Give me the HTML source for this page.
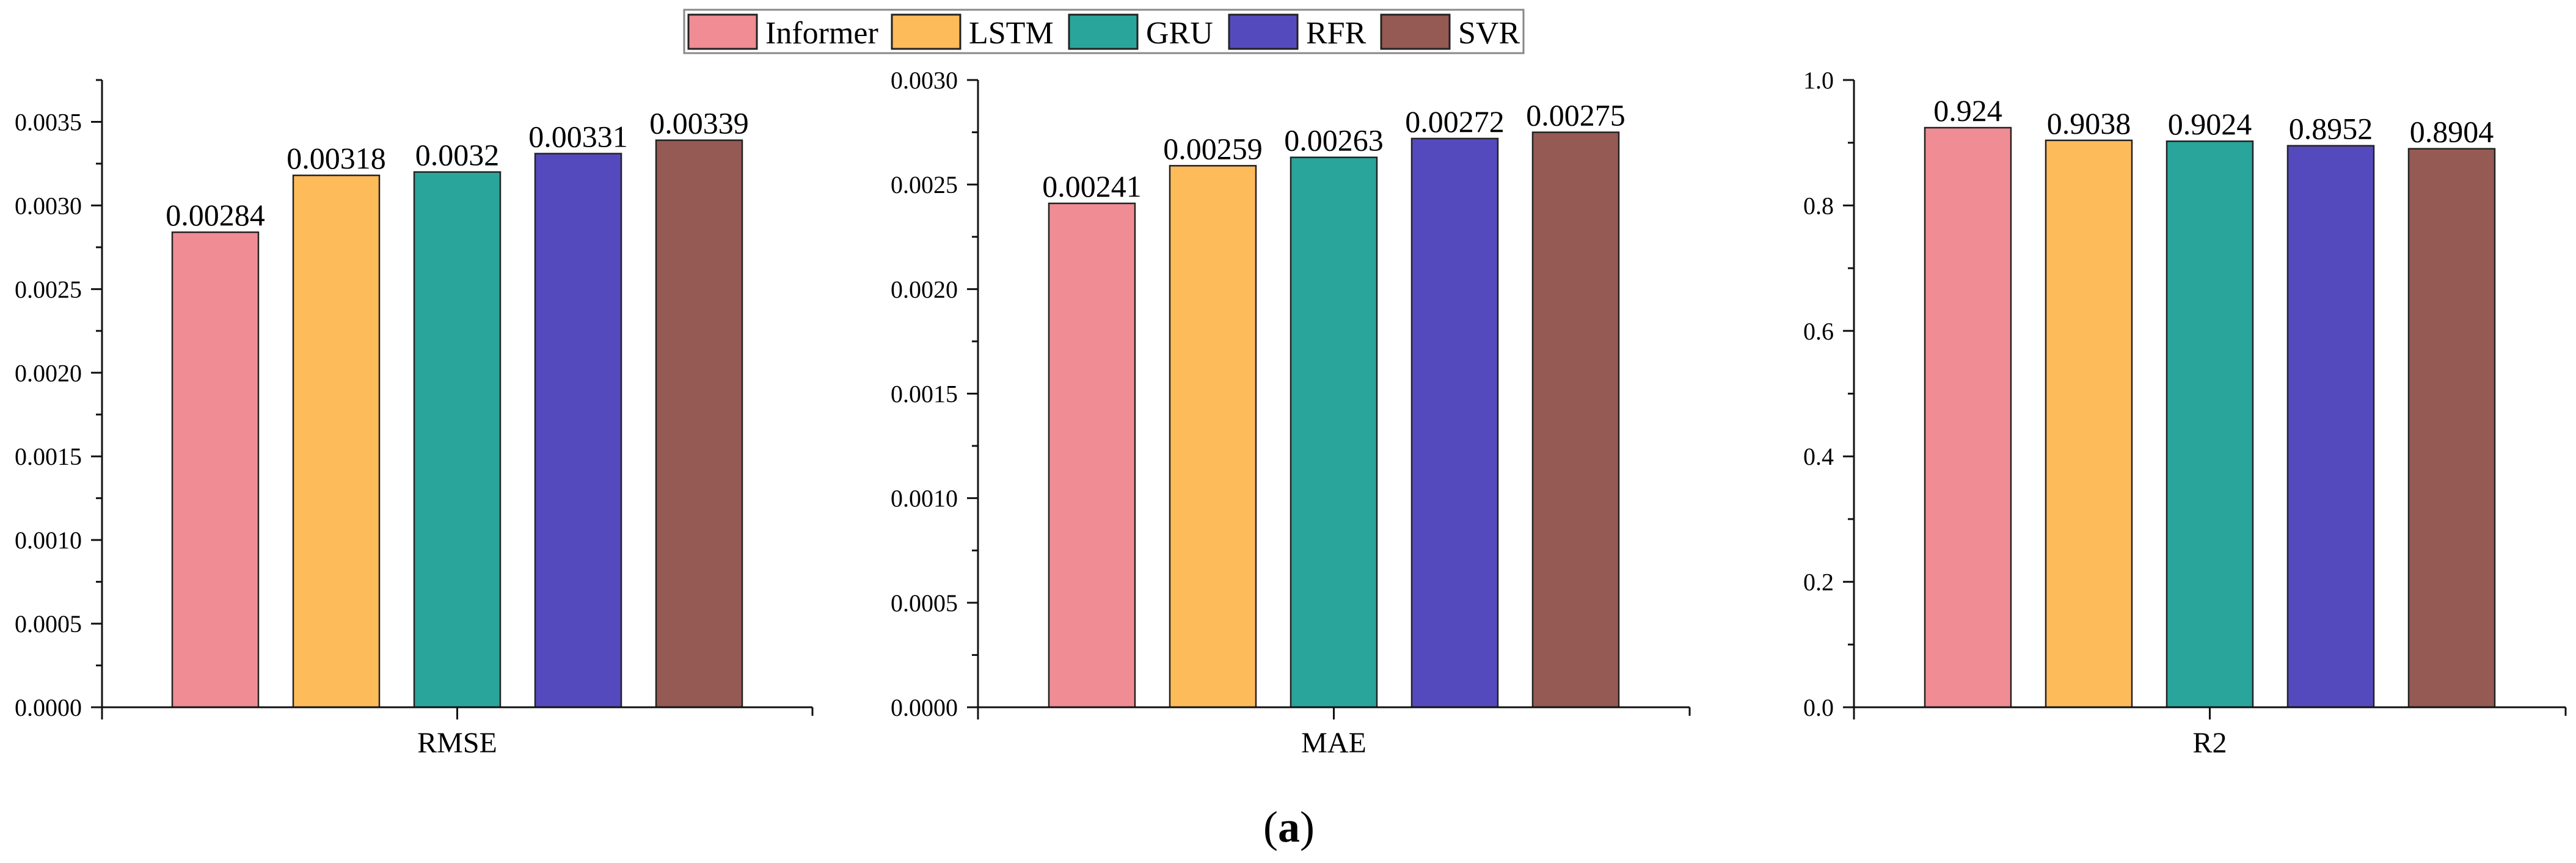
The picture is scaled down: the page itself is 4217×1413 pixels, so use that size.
<!DOCTYPE html>
<html><head><meta charset="utf-8"><style>
html,body{margin:0;padding:0;background:#fff;}
svg{display:block;font-family:"Liberation Serif",serif;}
</style></head><body>
<svg id="chart" width="4217" height="1413" viewBox="0 0 4217 1413" xmlns="http://www.w3.org/2000/svg">
<rect width="4217" height="1413" fill="#fff"/>
<g id="legend"></g>
<g id="panels"></g>
<text x="2110" y="1378" font-size="72" text-anchor="middle">(<tspan font-weight="bold">a</tspan>)</text>
</svg>
<script>
const models = ["Informer","LSTM","GRU","RFR","SVR"];
const colors = ["#F08C94","#FDBB5A","#29A59B","#554ABD","#955A53"];
const rmseValues = [0.00284,0.00318,0.0032,0.00331,0.00339];
const rmseLabels = ["0.00284","0.00318","0.0032","0.00331","0.00339"];
const maeValues = [0.00241,0.00259,0.00263,0.00272,0.00275];
const maeLabels = ["0.00241","0.00259","0.00263","0.00272","0.00275"];
const r2Values = [0.924,0.9038,0.9024,0.8952,0.8904];
const r2Labels = ["0.924","0.9038","0.9024","0.8952","0.8904"];
const rmseTicks = ["0.0000","0.0005","0.0010","0.0015","0.0020","0.0025","0.0030","0.0035"];
const maeTicks = ["0.0000","0.0005","0.0010","0.0015","0.0020","0.0025","0.0030"];
const r2Ticks = ["0.0","0.2","0.4","0.6","0.8","1.0"];

const NS="http://www.w3.org/2000/svg";
function mk(tag, attrs, parent){const e=document.createElementNS(NS,tag);for(const k in attrs)e.setAttribute(k,attrs[k]);parent.appendChild(e);return e;}

// legend
const lg=document.getElementById('legend');
mk('rect',{x:1120,y:16,width:1374,height:71,fill:'#fff',stroke:'#888','stroke-width':3},lg);
const swX=[1127,1460,1750,2012,2261];
models.forEach((m,i)=>{
  const g=mk('g',{},lg);
  
  
  mk('rect',{x:swX[i],y:24,width:112,height:56,fill:colors[i],stroke:'#222','stroke-width':3},g);
  const t=mk('text',{x:swX[i]+126,y:71,'font-size':52},g);t.textContent=m;
});

const panels=[
 {name:'rmse',title:'RMSE',x0:167,x1:1330,max:0.00375,step:0.0005,values:rmseValues,labels:rmseLabels,ticks:rmseTicks},
 {name:'mae',title:'MAE',x0:1601,x1:2766,max:0.0030,step:0.0005,values:maeValues,labels:maeLabels,ticks:maeTicks},
 {name:'r2',title:'R2',x0:3035,x1:4200,max:1.0,step:0.2,values:r2Values,labels:r2Labels,ticks:r2Ticks}
];
const yTop=131,yBase=1158,pitch=198,bw=141;
const root=document.getElementById('panels');
panels.forEach(p=>{
  const g=mk('g',{},root);
  
  
  const yScale=v=>yBase-(v/p.max)*(yBase-yTop);
  const L=p.x1-p.x0;
  const start=p.x0+(L-(4*pitch+bw))/2;
  // bars
  p.values.forEach((v,i)=>{
    const x=start+i*pitch;
    const r=mk('rect',{x:x,y:yScale(v),width:bw,height:yBase-yScale(v),fill:colors[i],stroke:'#222','stroke-width':2.5},g);
    
    
    const t=mk('text',{x:x+bw/2,y:yScale(v)-11,'font-size':50,'text-anchor':'middle'},g);
    
    
    t.textContent=p.labels[i];
  });
  // y axis
  const ya=mk('g',{},g);
  
  
  mk('line',{x1:p.x0,y1:yTop,x2:p.x0,y2:yBase+20,stroke:'#111','stroke-width':3},ya);
  p.ticks.forEach((lab,i)=>{
    const y=yScale(i*p.step);
    mk('line',{x1:p.x0-18,y1:y,x2:p.x0,y2:y,stroke:'#111','stroke-width':3},ya);
    const t=mk('text',{x:p.x0-33,y:y+14,'font-size':40,'text-anchor':'end'},ya);
    
    
    t.textContent=lab;
    const ym=yScale((i+0.5)*p.step);
    if(ym>=yTop) mk('line',{x1:p.x0-10,y1:ym,x2:p.x0,y2:ym,stroke:'#111','stroke-width':3},ya);
  });
  // x axis
  const xa=mk('g',{},g);
  
  
  mk('line',{x1:p.x0,y1:yBase,x2:p.x1,y2:yBase,stroke:'#111','stroke-width':3},xa);
  const cx=(p.x0+p.x1)/2;
  mk('line',{x1:cx,y1:yBase,x2:cx,y2:yBase+20,stroke:'#111','stroke-width':3},xa);
  mk('line',{x1:p.x1,y1:yBase,x2:p.x1,y2:yBase+14,stroke:'#111','stroke-width':3},xa);
  const tt=mk('text',{x:cx,y:1232,'font-size':48,'text-anchor':'middle'},xa);
  
  
  tt.textContent=p.title;
});
</script>
</body></html>
